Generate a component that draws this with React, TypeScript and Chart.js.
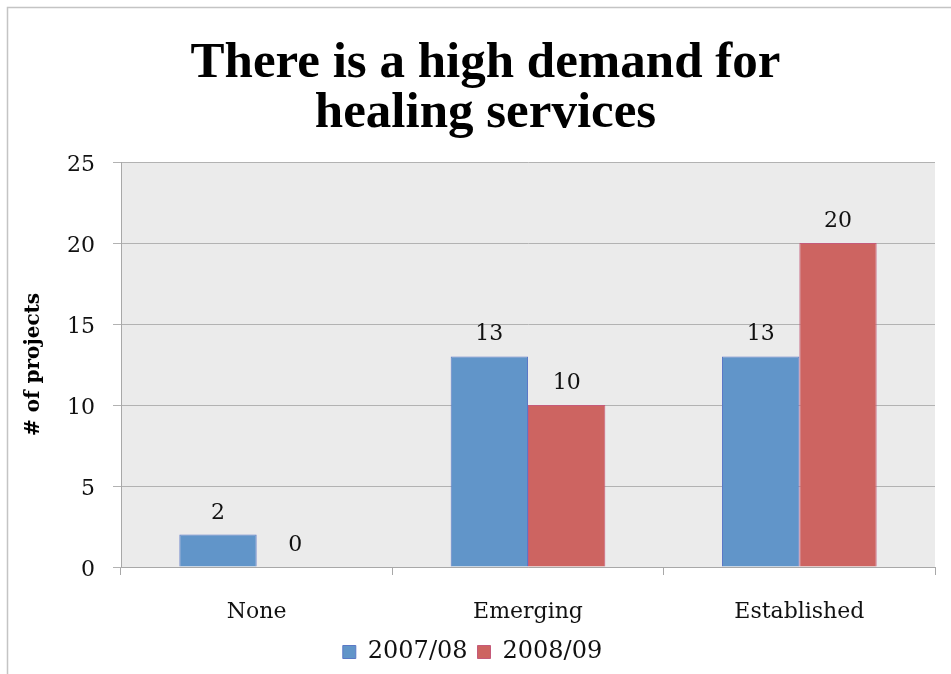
import React, { useEffect, useRef } from "react";
import { Chart, registerables } from "chart.js";

Chart.register(...registerables);

const titleLines = ["There is a high demand for", "healing services"];
const categories = ["None", "Emerging", "Established"];
const seriesNames = ["2007/08", "2008/09"];
const values2007 = [2, 13, 13];
const values2008 = [0, 10, 20];
const yTitle = "# of projects";
const yMin = 0;
const yMax = 25;
const yStep = 5;

const BLUE = "#6195c9";
const BLUE_BORDER = "#5b78c6";
const RED = "#cd6461";
const RED_BORDER = "#c55a7a";
const SERIF = "'DejaVu Serif', serif";

const bgPlugin = {
  id: "plotBg",
  afterLayout(chart: any) {
    // the title of the original is centred over the whole frame, not the legend area
    if (chart.titleBlock) {
      chart.titleBlock.left = 20;
      chart.titleBlock.right = chart.width;
    }
  },
  beforeDraw(chart: any) {
    const { ctx, chartArea } = chart;
    ctx.save();
    ctx.fillStyle = "#ffffff";
    ctx.fillRect(0, 0, chart.width, chart.height);
    ctx.strokeStyle = "#c4c4c4";
    ctx.lineWidth = 1.5;
    ctx.beginPath();
    ctx.moveTo(7.5, chart.height);
    ctx.lineTo(7.5, 7.5);
    ctx.lineTo(chart.width, 7.5);
    ctx.stroke();
    ctx.fillStyle = "#ebebeb";
    ctx.fillRect(chartArea.left, chartArea.top, chartArea.right - chartArea.left, chartArea.bottom - chartArea.top);
    ctx.restore();
  },
};

const valueLabels = {
  id: "valueLabels",
  afterDatasetsDraw(chart: any) {
    const { ctx } = chart;
    ctx.save();
    ctx.font = `22px ${SERIF}`;
    ctx.fillStyle = "#111111";
    ctx.textAlign = "center";
    ctx.textBaseline = "alphabetic";
    chart.data.datasets.forEach((ds: any, di: number) => {
      const meta = chart.getDatasetMeta(di);
      meta.data.forEach((el: any, i: number) => {
        ctx.fillText(String(ds.data[i]), el.x, el.y - 16);
      });
    });
    ctx.restore();
  },
};

export default function App() {
  const ref = useRef<HTMLCanvasElement | null>(null);
  useEffect(() => {
    if (!ref.current) return;
    const chart = new Chart(ref.current, {
      type: "bar",
      data: {
        labels: categories,
        datasets: [
          {
            label: seriesNames[0],
            data: values2007,
            backgroundColor: BLUE,
            borderColor: BLUE_BORDER,
            borderWidth: 1,
            categoryPercentage: 0.57,
            barPercentage: 1,
          },
          {
            label: seriesNames[1],
            data: values2008,
            backgroundColor: RED,
            borderColor: RED_BORDER,
            borderWidth: 1,
            categoryPercentage: 0.57,
            barPercentage: 1,
          },
        ],
      },
      options: {
        responsive: false,
        animation: false,
        layout: { padding: { left: 10, right: 16, top: 0, bottom: 0 } },
        plugins: {
          title: {
            display: true,
            text: titleLines,
            color: "#000000",
            font: { family: "'Liberation Serif', serif", weight: "bold", size: 51, lineHeight: "50px" },
            padding: { top: 39, bottom: 23 },
          },
          legend: {
            display: true,
            position: "bottom",
            labels: {
              color: "#111111",
              font: { family: SERIF, size: 24 },
              boxWidth: 13,
              boxHeight: 13,
              padding: 10,
            },
          },
          tooltip: { enabled: false },
        },
        scales: {
          x: {
            afterFit: (s: any) => {
              s.height = 63;
            },
            grid: {
              offset: true,
              drawOnChartArea: false,
              drawTicks: true,
              tickLength: 8,
              color: "#a8a8a8",
            },
            border: { color: "#a8a8a8", width: 1 },
            ticks: {
              color: "#111111",
              font: { family: SERIF, size: 22 },
              padding: 24,
            },
          },
          y: {
            min: yMin,
            max: yMax,
            afterFit: (s: any) => {
              s.width = 111;
            },
            ticks: {
              stepSize: yStep,
              color: "#111111",
              font: { family: SERIF, size: 22 },
              padding: 18,
              labelOffset: 3,
            },
            grid: {
              color: "#b2b2b2",
              tickLength: 8,
              drawTicks: true,
            },
            border: { color: "#a8a8a8", width: 1 },
            title: {
              display: true,
              text: yTitle,
              color: "#000000",
              font: { family: SERIF, weight: "bold", size: 20, lineHeight: 1.2 },
              padding: { top: 12, bottom: 21 },
            },
          },
        },
      },
      plugins: [bgPlugin, valueLabels],
    });
    return () => chart.destroy();
  }, []);
  return (
    <div style={{ position: "absolute", left: 0, top: 0, width: 951, height: 674, background: "#fff" }}>
      <canvas ref={ref} width={951} height={674} style={{ display: "block", width: 951, height: 674 }} />
    </div>
  );
}
